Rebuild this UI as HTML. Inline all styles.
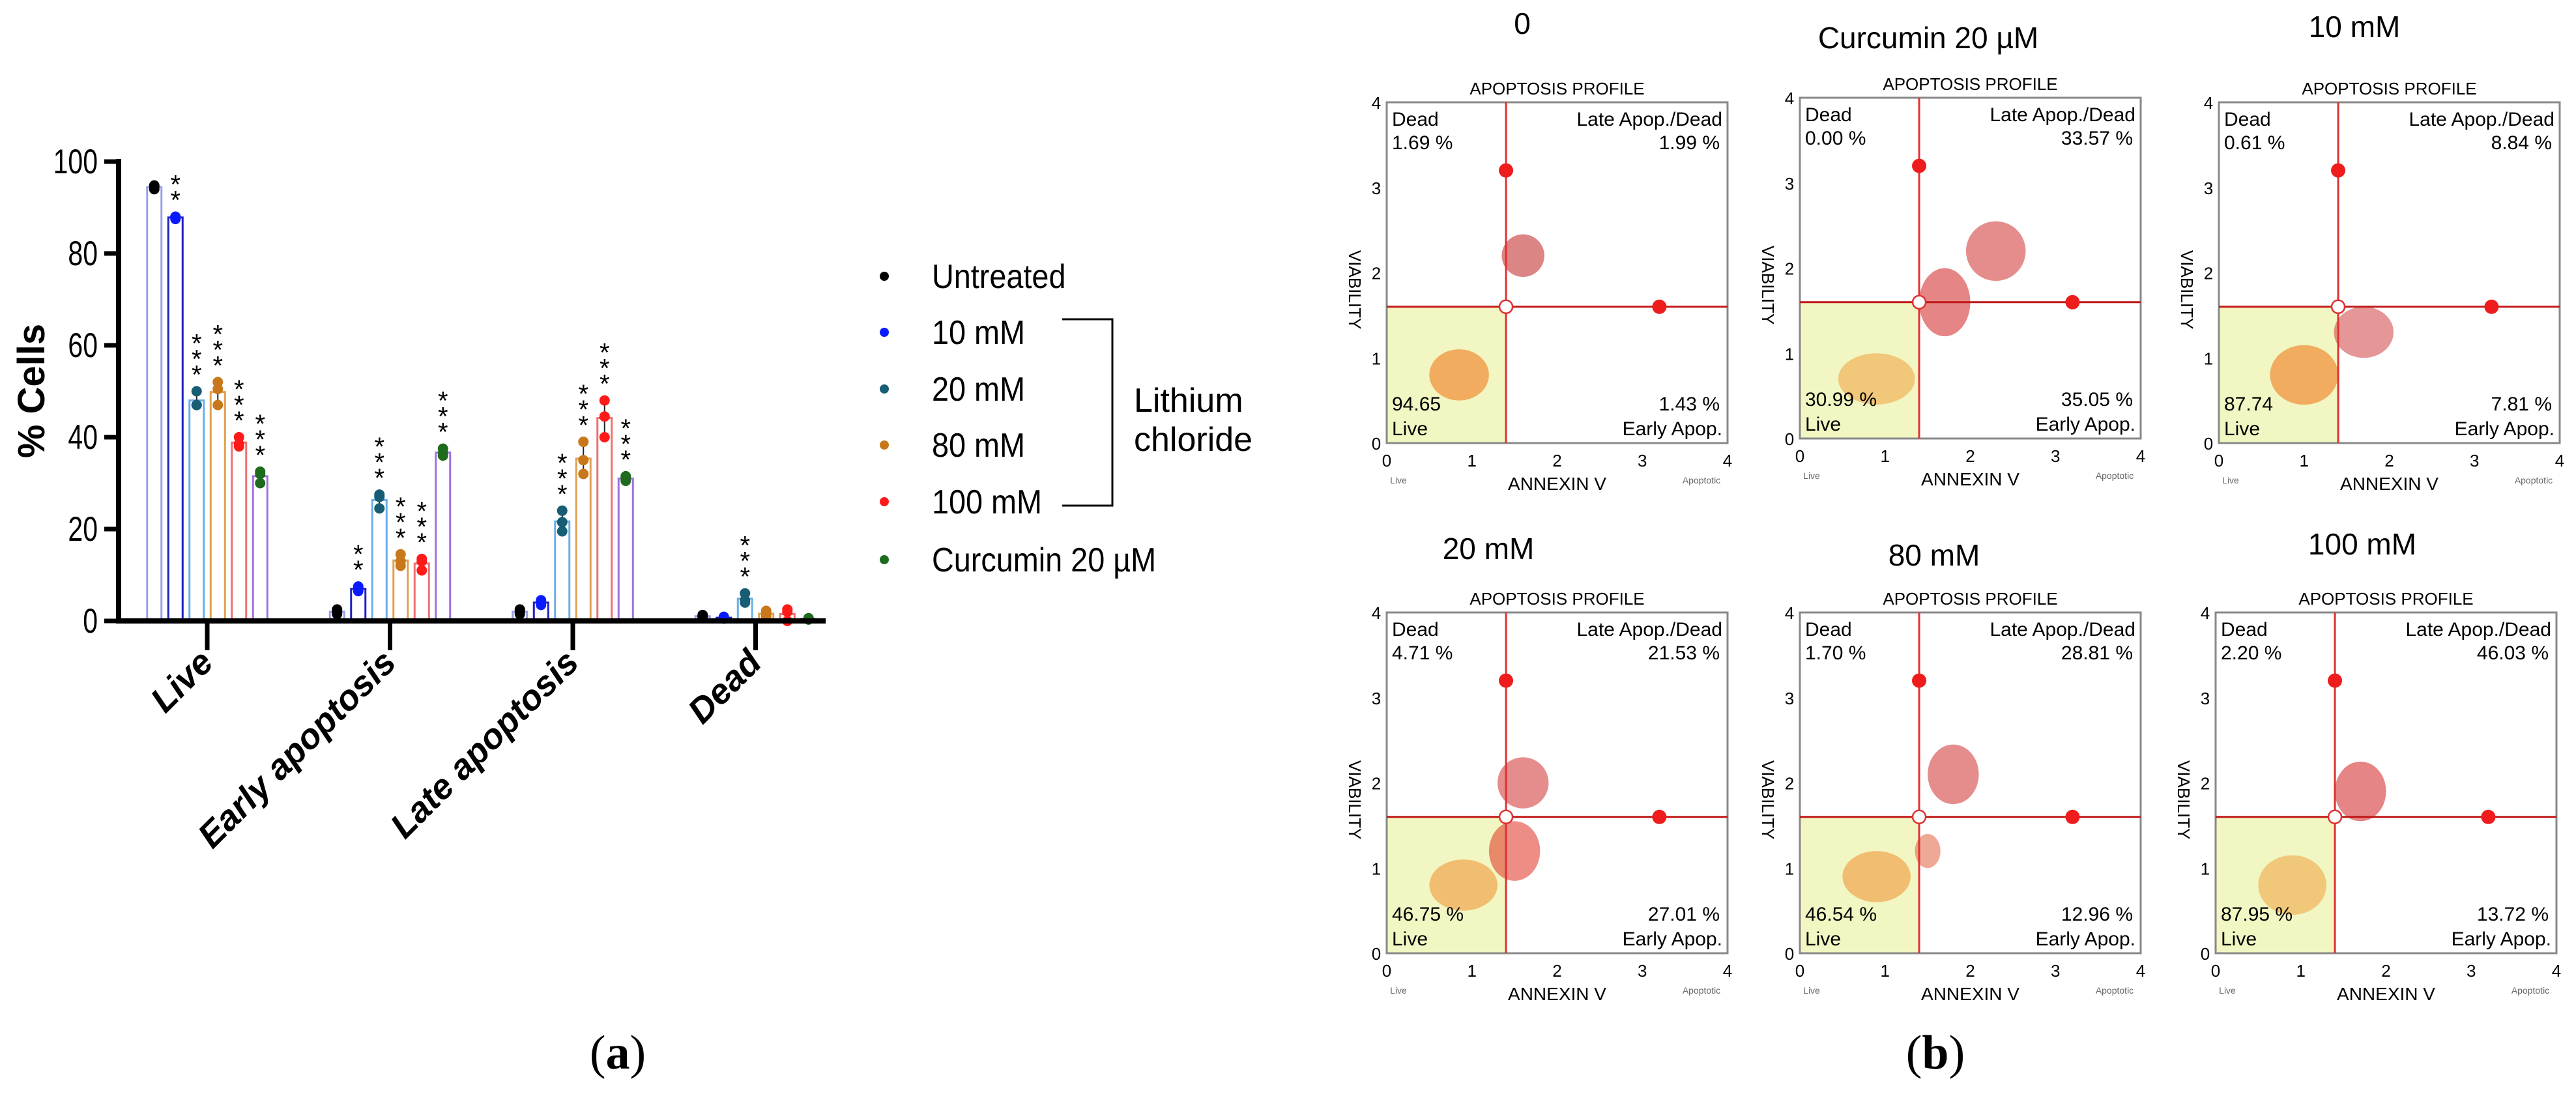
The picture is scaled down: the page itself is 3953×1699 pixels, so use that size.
<!DOCTYPE html>
<html><head><meta charset="utf-8"><style>
html,body{margin:0;padding:0;background:#fff;}
svg{display:block;font-family:"Liberation Sans",sans-serif;}
</style></head><body>
<svg id="fig" width="3953" height="1699" viewBox="0 0 3953 1699" xmlns="http://www.w3.org/2000/svg">
<g id="chartA"></g>
<g id="legend"></g>
<g id="panelB"></g>
<text x="948" y="1640" font-family="Liberation Serif,serif" font-size="74" text-anchor="middle">(<tspan font-weight="bold">a</tspan>)</text>
<text x="2970" y="1640" font-family="Liberation Serif,serif" font-size="74" text-anchor="middle">(<tspan font-weight="bold">b</tspan>)</text>
</svg>
<script>
const categories = ["Live","Early apoptosis","Late apoptosis","Dead"];
const seriesNames = ["Untreated","10 mM","20 mM","80 mM","100 mM","Curcumin 20 \u00b5M"];
const untreatedPts = [[94,94.5,94.8],[1.5,2,2.5],[1.5,2,2.5],[0.8,1,1.3]];
const mM10Pts = [[87.5,88,88],[6.5,7,7.5],[3.5,4,4.5],[0.5,0.7,0.9]];
const mM20Pts = [[47,47,50],[24.5,27,27.5],[19.5,21.5,24],[4,4.5,6]];
const mM80Pts = [[47,50.5,52],[12,13,14.5],[32,35,39],[1,1.5,2.2]];
const mM100Pts = [[38,38.5,40],[11,13,13.5],[40,44.5,48],[0,2,2.5]];
const curcuminPts = [[30,32,32.5],[36,36.5,37.5],[30.5,31,31.5],[0.3,0.5,0.6]];
const significance = [["","**","***","***","***","***"],["","**","***","***","***","***"],["","","***","***","***","***"],["","","***","","",""]];
const yTicks = [0,20,40,60,80,100];

const NS="http://www.w3.org/2000/svg";
function mk(tag,attrs,parent,txt){const e=document.createElementNS(NS,tag);for(const k in attrs)e.setAttribute(k,attrs[k]);if(txt!==undefined)e.textContent=txt;parent.appendChild(e);return e;}
const allPts=[untreatedPts,mM10Pts,mM20Pts,mM80Pts,mM100Pts,curcuminPts];
const dotCol=["#000","#0a1aff","#175d74","#c8781a","#ff1a1a","#1e6b1e"];
const barCol=["#9aa0e8","#2020c0","#6aaee8","#e0a050","#f07070","#a070e0"];
const y0=953,yPer=7.05;
const yS=v=>y0-v*yPer;
const xC=i=>318+i*280.5;
const bw=22,step=32.5;
const A=document.getElementById("chartA");
// bars & points
categories.forEach((c,ci)=>{
  allPts.forEach((s,si)=>{
    const pts=s[ci];const m=pts.reduce((a,b)=>a+b,0)/pts.length;
    const cx=xC(ci)+(si-2.5)*step;
    const b=mk("rect",{x:cx-bw/2,y:yS(m),width:bw,height:y0-yS(m),fill:"#fff",stroke:barCol[si],"stroke-width":3},A);
    
    
    const mn=Math.min(...pts),mx=Math.max(...pts);
    const eb=mk("line",{x1:cx,x2:cx,y1:yS(mn),y2:yS(mx),stroke:"#222","stroke-width":2},A);
    
    
    pts.forEach(p=>{
      const d=mk("circle",{cx:cx,cy:yS(p),r:8,fill:dotCol[si]},A);
      
      
    });
    const st=significance[ci][si];
    for(let k=0;k<st.length;k++){
      const t=mk("text",{x:cx,y:yS(mx)-12-k*24,"font-size":40,"text-anchor":"middle"},A,"*");
      
      
    }
  });
  const tk=mk("line",{x1:xC(ci),x2:xC(ci),y1:y0,y2:y0+45,stroke:"#000","stroke-width":7},A);
  
  
  const cl=mk("text",{x:0,y:0,"font-size":54,"font-weight":"bold","font-style":"italic","text-anchor":"end",transform:`translate(${xC(ci)+12},1020) rotate(-45)`},A,c);
  
  
});
// axes
let ax=mk("line",{x1:182,x2:182,y1:yS(100)-4,y2:y0+4,stroke:"#000","stroke-width":8},A);

ax=mk("line",{x1:178,x2:1267,y1:y0,y2:y0,stroke:"#000","stroke-width":8},A);

yTicks.forEach(v=>{
  const l=mk("line",{x1:160,x2:182,y1:yS(v),y2:yS(v),stroke:"#000","stroke-width":7},A);
  
  const t=mk("text",{x:150,y:yS(v)+18,"font-size":50,"text-anchor":"end",transform:`translate(150,0) scale(0.82,1.05) translate(-150,0)`},A,String(v));
  t.setAttribute('transform',`translate(${150},${yS(v)+18}) scale(0.82,1.05)`);
  t.setAttribute('x',0);t.setAttribute('y',0);
  
});
const yl=mk("text",{x:0,y:0,"font-size":58,"font-weight":"bold","text-anchor":"middle",transform:"translate(68,600) rotate(-90)"},A,"% Cells");

// legend
const L=document.getElementById("legend");
const legY=[424,510,597,683,770,859];
seriesNames.forEach((n,i)=>{
  const g=mk("g",{},L);
  
  mk("circle",{cx:1357,cy:legY[i],r:7,fill:dotCol[i]},g);
  mk("text",{x:0,y:0,"font-size":52,transform:`translate(1430,${legY[i]+18}) scale(0.9,1)`},g,n);
});
mk("polyline",{points:"1630,490 1707,490 1707,776 1630,776",fill:"none",stroke:"#000","stroke-width":3},L);
mk("text",{x:1740,y:632,"font-size":52},L,"Lithium");
mk("text",{x:1740,y:692,"font-size":52},L,"chloride");

// panel b
const B=document.getElementById("panelB");
const panelTitles=["0","Curcumin 20 \u00b5M","10 mM","20 mM","80 mM","100 mM"];
const titlePos=[[2336,52],[2959,74],[3613,57],[2284,858],[2968,868],[3625,851]];
const panelOrigin=[[2128,157],[2762,150],[3405,157],[2128,940],[2762,940],[3400,940]];
const deadPct=["1.69 %","0.00 %","0.61 %","4.71 %","1.70 %","2.20 %"];
const latePct=["1.99 %","33.57 %","8.84 %","21.53 %","28.81 %","46.03 %"];
const livePct=["94.65","30.99 %","87.74","46.75 %","46.54 %","87.95 %"];
const earlyPct=["1.43 %","35.05 %","7.81 %","27.01 %","12.96 %","13.72 %"];
// density blobs [x, y, rx, ry, colour] in data units (0..4)
const blobs=[
 [[0.85,0.8,0.35,0.3,"#f07010"],[1.6,2.2,0.25,0.25,"#c02020"]],
 [[0.9,0.7,0.45,0.3,"#f0a040"],[1.7,1.6,0.3,0.4,"#d02020"],[2.3,2.2,0.35,0.35,"#d03030"]],
 [[1.0,0.8,0.4,0.35,"#f07010"],[1.7,1.3,0.35,0.3,"#d04040"]],
 [[0.9,0.8,0.4,0.3,"#f09030"],[1.5,1.2,0.3,0.35,"#e03020"],[1.6,2.0,0.3,0.3,"#d03030"]],
 [[0.9,0.9,0.4,0.3,"#f09030"],[1.8,2.1,0.3,0.35,"#d03030"],[1.5,1.2,0.15,0.2,"#e06040"]],
 [[0.9,0.8,0.4,0.35,"#f0a040"],[1.7,1.9,0.3,0.35,"#d02020"]]
];
const S=523;
panelOrigin.forEach((o,i)=>{
  const [L0,T]=o;
  const g=mk("g",{},B);
  
  const px=v=>L0+v/4*S, py=v=>T+S-v/4*S;
  mk("text",{x:titlePos[i][0],y:titlePos[i][1],"font-size":46,"text-anchor":"middle"},g,panelTitles[i]);
  mk("text",{x:L0+S/2,y:T-12,"font-size":26,"text-anchor":"middle"},g,"APOPTOSIS PROFILE");
  mk("rect",{x:L0,y:py(1.6),width:px(1.4)-L0,height:T+S-py(1.6),fill:"#f2f6c2"},g);
  blobs[i].forEach(b=>{
    const e=mk("ellipse",{cx:px(b[0]),cy:py(b[1]),rx:b[2]/4*S,ry:b[3]/4*S,fill:b[4],opacity:0.55},g);
    
  });
  mk("rect",{x:L0,y:T,width:S,height:S,fill:"none",stroke:"#888","stroke-width":3},g);
  mk("line",{x1:px(1.4),x2:px(1.4),y1:T,y2:T+S,stroke:"#e03030","stroke-width":3},g);
  mk("line",{x1:L0,x2:L0+S,y1:py(1.6),y2:py(1.6),stroke:"#c01818","stroke-width":3},g);
  mk("circle",{cx:px(1.4),cy:py(3.2),r:11,fill:"#ee1c1c"},g);
  mk("circle",{cx:px(3.2),cy:py(1.6),r:11,fill:"#ee1c1c"},g);
  mk("circle",{cx:px(1.4),cy:py(1.6),r:10,fill:"#fff",stroke:"#e03030","stroke-width":2.5},g);
  mk("text",{x:L0+8,y:T+36,"font-size":30},g,"Dead");
  mk("text",{x:L0+8,y:T+72,"font-size":30},g,deadPct[i]);
  mk("text",{x:L0+S-8,y:T+36,"font-size":30,"text-anchor":"end"},g,"Late Apop./Dead");
  mk("text",{x:L0+S-12,y:T+72,"font-size":30,"text-anchor":"end"},g,latePct[i]);
  mk("text",{x:L0+8,y:T+S-50,"font-size":30},g,livePct[i]);
  mk("text",{x:L0+8,y:T+S-12,"font-size":30},g,"Live");
  mk("text",{x:L0+S-12,y:T+S-50,"font-size":30,"text-anchor":"end"},g,earlyPct[i]);
  mk("text",{x:L0+S-8,y:T+S-12,"font-size":30,"text-anchor":"end"},g,"Early Apop.");
  for(let k=0;k<=4;k++){
    mk("text",{x:L0-16,y:py(k)+10,"font-size":26,"text-anchor":"middle"},g,String(k));
    mk("text",{x:px(k),y:T+S+36,"font-size":26,"text-anchor":"middle"},g,String(k));
  }
  mk("text",{x:L0+S/2,y:T+S+72,"font-size":28,"text-anchor":"middle"},g,"ANNEXIN V");
  mk("text",{x:L0+18,y:T+S+62,"font-size":14,"text-anchor":"middle",fill:"#666"},g,"Live");
  mk("text",{x:L0+S-40,y:T+S+62,"font-size":14,"text-anchor":"middle",fill:"#666"},g,"Apoptotic");
  mk("text",{x:0,y:0,"font-size":26,"text-anchor":"middle",transform:`translate(${L0-58},${T+S*0.55}) rotate(90)`},g,"VIABILITY");
});
</script>
</body></html>
